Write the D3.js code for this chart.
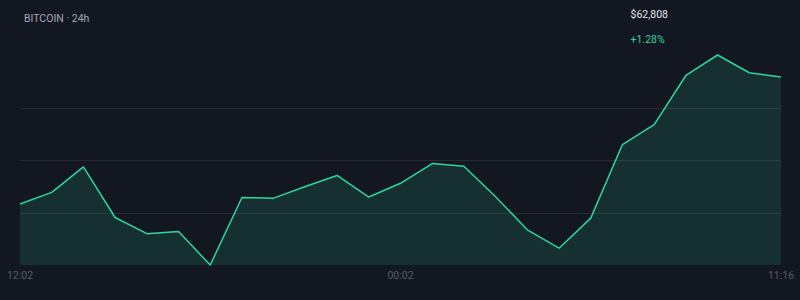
<!DOCTYPE html>
<html>
<head>
<meta charset="utf-8">
<script src="https://cdn.jsdelivr.net/npm/d3@7"></script>
<style>
  html, body { margin: 0; padding: 0; background: #131722; }
  svg { display: block; font-family: Roboto, "Noto Sans", sans-serif; }
</style>
</head>
<body>
<svg id="chart"></svg>
<script>
// 24h BTC price
var prices = [
  62014, 62087, 62246, 61930, 61829, 61842, 61633, 62055, 62051, 62124,
  62193, 62058, 62144, 62267, 62250, 62060, 61853, 61738, 61926, 62386,
  62511, 62818, 62946, 62835, 62808
]
var tickIndex = [0, 12, 24]
var tickLabels = ['12:02', '00:02', '11:16']
var title = 'BITCOIN · 24h'
var lastPrice = '$62,808'
var change = '+1.28%'

var width = 800
var height = 300
var margin = {top: 55, right: 19, bottom: 35, left: 20}

var svg = d3.select('#chart')
    .attr('width', width)
    .attr('height', height)

svg.append('rect')
    .attr('width', width)
    .attr('height', height)
    .attr('fill', '#131722')

var x = d3.scaleLinear()
    .domain([0, prices.length - 1])
    .range([margin.left, width - margin.right])

var y = d3.scaleLinear()
    .domain(d3.extent(prices))
    .range([height - margin.bottom, margin.top])

// horizontal grid at quarters of the plot height
var yMin = y.domain()[0]
var yMax = y.domain()[1]
var gridVals = [0.25, 0.5, 0.75].map(function (f) { return yMin + f * (yMax - yMin) })
svg.selectAll('.grid')
    .data(gridVals)
  .enter().append('line')
    .attr('class', 'grid')
    .attr('x1', margin.left)
    .attr('x2', width - margin.right)
    .attr('y1', function (d) { return Math.round(y(d)) + 0.5 })
    .attr('y2', function (d) { return Math.round(y(d)) + 0.5 })
    .attr('stroke', '#262a35')
    .attr('stroke-width', 1)

// area + line
var area = d3.area()
    .x(function (d, i) { return x(i) })
    .y0(height - margin.bottom)
    .y1(function (d) { return y(d) })

var line = d3.line()
    .x(function (d, i) { return x(i) })
    .y(function (d) { return y(d) })

svg.append('path')
    .datum(prices)
    .attr('d', area)
    .attr('fill', '#2ed69e')
    .attr('fill-opacity', 0.13)

svg.append('path')
    .datum(prices)
    .attr('d', line)
    .attr('fill', 'none')
    .attr('stroke', '#2ed69e')
    .attr('stroke-width', 1.5)
    .attr('stroke-linejoin', 'round')

// x labels
svg.selectAll('.x-label')
    .data(tickIndex)
  .enter().append('text')
    .attr('class', 'x-label')
    .attr('x', function (d) { return x(d) })
    .attr('y', 279)
    .attr('text-anchor', 'middle')
    .attr('font-size', 10.5)
    .attr('fill', '#575c6b')
    .text(function (d, i) { return tickLabels[i] })

// header texts
svg.append('text')
    .attr('x', 24)
    .attr('y', 21.5)
    .attr('font-size', 10.5)
    .attr('fill', '#a3a8b5')
    .text(title)

svg.append('text')
    .attr('x', 630.5)
    .attr('y', 18)
    .attr('font-size', 10.5)
    .attr('fill', '#e3e5ea')
    .text(lastPrice)

svg.append('text')
    .attr('x', 630.5)
    .attr('y', 43)
    .attr('font-size', 10.5)
    .attr('fill', '#2ed69e')
    .text(change)
</script>
</body>
</html>
